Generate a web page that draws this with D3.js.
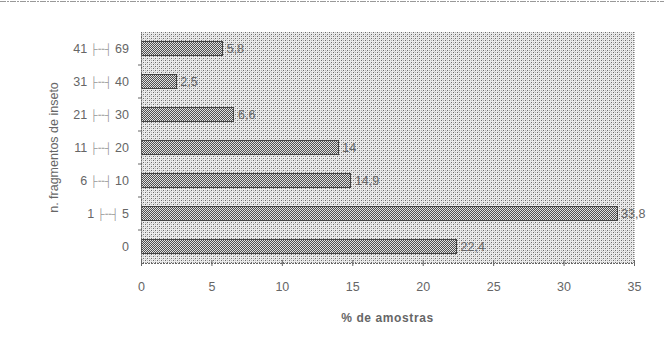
<!DOCTYPE html>
<html>
<head>
<meta charset="utf-8">
<script src="https://cdn.jsdelivr.net/npm/d3@7"></script>
<style>
  html, body { margin: 0; padding: 0; background: #fff; }
  svg { display: block; }
  text { font-family: "Liberation Sans", Arial, sans-serif; fill: #666; }
</style>
</head>
<body>
<svg id="chart" width="664" height="355"></svg>
<script>
// Classes of fragment counts (bottom to top) and share of samples (%)
const classLow = ["0", "1", "6", "11", "21", "31", "41"];
const classHigh = [null, "5", "10", "20", "30", "40", "69"];
const shares = [22.4, 33.8, 14.9, 14, 6.6, 2.5, 5.8];
const shareLabels = ["22,4", "33,8", "14,9", "14", "6,6", "2,5", "5,8"];
const xTicks = [0, 5, 10, 15, 20, 25, 30, 35];

const svg = d3.select("#chart");
const margin = { left: 141, right: 30, top: 32, bottom: 92 };
const W = 664, H = 355;
const iw = W - margin.left - margin.right;
const ih = H - margin.top - margin.bottom;

const defs = svg.append("defs");
// dotted screen for the plot background
const bg = defs.append("pattern").attr("id", "dots")
  .attr("width", 4).attr("height", 4).attr("patternUnits", "userSpaceOnUse");
bg.append("rect").attr("width", 4).attr("height", 4).attr("fill", "#ececec");
[[0,0,"#6a6a6a"],[2,2,"#6a6a6a"],[2,0,"#b5b5b5"],[0,2,"#b5b5b5"],[1,3,"#d0d0d0"]].forEach(([px,py,c]) => {
  bg.append("rect").attr("x", px).attr("y", py).attr("width", 1).attr("height", 1).attr("fill", c);
});
// dense checkered cross-hatch for the bars
const hb = defs.append("pattern").attr("id", "hatch")
  .attr("width", 2).attr("height", 2).attr("patternUnits", "userSpaceOnUse");
hb.append("rect").attr("width", 2).attr("height", 2).attr("fill", "#e0e0e0");
hb.append("rect").attr("x", 0).attr("y", 0).attr("width", 1).attr("height", 1).attr("fill", "#505050");
hb.append("rect").attr("x", 1).attr("y", 1).attr("width", 1).attr("height", 1).attr("fill", "#505050");

const g = svg.append("g").attr("transform", `translate(${margin.left},${margin.top})`);

const x = d3.scaleLinear().domain([0, 35]).range([0, iw]);
const y = d3.scaleBand().domain(classLow).range([ih, 0]).paddingInner(0.56).paddingOuter(0.28);

// plot background
g.append("rect").attr("width", iw).attr("height", ih).attr("fill", "url(#dots)");

// bars
g.selectAll("rect.bar").data(shares).join("rect")
  .attr("class", "bar")
  .attr("x", x(0))
  .attr("y", (d, i) => y(classLow[i]))
  .attr("width", d => x(d) - x(0))
  .attr("height", y.bandwidth())
  .attr("fill", "url(#hatch)")
  .attr("stroke", "#444").attr("stroke-width", 1)
  .attr("shape-rendering", "crispEdges");

// value labels
g.selectAll("text.val").data(shares).join("text")
  .attr("class", "val")
  .attr("x", d => x(d) + 4)
  .attr("y", (d, i) => y(classLow[i]) + y.bandwidth() / 2)
  .attr("dy", "0.36em")
  .attr("font-size", 12.5)
  .text((d, i) => shareLabels[i]);

// x axis
const xAxis = g.append("g").attr("transform", `translate(0,${ih})`)
  .call(d3.axisBottom(x).tickValues(xTicks).tickSize(3).tickPadding(16).tickFormat(d3.format("d")));
xAxis.select(".domain").attr("stroke", "#666").attr("stroke-dasharray", "2,1");
xAxis.selectAll(".tick line").attr("stroke", "#666").attr("y1", -3);
xAxis.selectAll("text").attr("font-size", 12.5).attr("fill", "#666");

// y axis: class labels "low ├╌┤ high"
const yAxis = g.append("g").call(d3.axisLeft(y).tickSize(0).tickPadding(12).tickFormat(() => ""));
yAxis.select(".domain").attr("stroke", "#666").attr("stroke-dasharray", "2,1");
yAxis.selectAll(".tick text").each(function(d) {
  const i = classLow.indexOf(d);
  const t = d3.select(this).attr("font-size", 12.5).attr("fill", "#666");
  t.append("tspan").text(classLow[i]);
  if (classHigh[i] !== null) {
    t.append("tspan").attr("font-size", 10.5).attr("fill", "#999").attr("dx", 3).text("├╌┤");
    t.append("tspan").attr("dx", 3).text(classHigh[i]);
  }
});
const step = y.step();
g.append("g").selectAll("line").data(d3.range(1, classLow.length)).join("line")
  .attr("x1", -3).attr("x2", 1)
  .attr("y1", i => ih - y.paddingOuter() * step - i * step + y.paddingInner() * step / 2)
  .attr("y2", i => ih - y.paddingOuter() * step - i * step + y.paddingInner() * step / 2)
  .attr("stroke", "#666");

// right edge of the plot frame
g.append("line").attr("x1", iw).attr("x2", iw).attr("y1", 0).attr("y2", ih)
  .attr("stroke", "#777").attr("stroke-dasharray", "1,1");

// axis titles
svg.append("text")
  .attr("x", margin.left + iw / 2).attr("y", 322)
  .attr("text-anchor", "middle").attr("font-size", 12).attr("font-weight", "bold")
  .attr("fill", "#555").attr("letter-spacing", "0.6")
  .text("% de amostras");
svg.append("text")
  .attr("transform", `translate(58,${margin.top + ih / 2}) rotate(-90)`)
  .attr("text-anchor", "middle").attr("font-size", 12.5).attr("fill", "#888")
  .text("n. fragmentos de inseto");

// thin rule along the top edge
svg.append("line").attr("x1", 0).attr("x2", W).attr("y1", 1.5).attr("y2", 1.5)
  .attr("stroke", "#999").attr("stroke-dasharray", "6,1,2,1");
</script>
</body>
</html>
